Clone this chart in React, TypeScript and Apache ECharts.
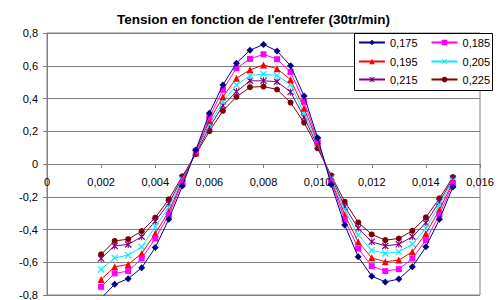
import React, { useEffect, useRef } from 'react';
import * as echarts from 'echarts';

const titleText = "Tension en fonction de l'entrefer (30tr/min)";

const xs = [
  0.002, 0.0025, 0.003, 0.0035, 0.004, 0.0045, 0.005, 0.0055, 0.006, 0.0065,
  0.007, 0.0075, 0.008, 0.0085, 0.009, 0.0095, 0.01, 0.0105, 0.011, 0.0115,
  0.012, 0.0125, 0.013, 0.0135, 0.014, 0.0145, 0.015,
];

const seriesNames = ['0,175', '0,185', '0,195', '0,205', '0,215', '0,225'];

const s175 = [
  -0.82, -0.735, -0.7, -0.634, -0.51, -0.338, -0.135, 0.085, 0.31, 0.483,
  0.616, 0.695, 0.73, 0.69, 0.6, 0.415, 0.16, -0.125, -0.373, -0.567,
  -0.685, -0.72, -0.703, -0.628, -0.506, -0.338, -0.14,
];
const s185 = [
  -0.75, -0.668, -0.654, -0.577, -0.455, -0.312, -0.115, 0.08, 0.285, 0.453,
  0.585, 0.642, 0.67, 0.64, 0.562, 0.38, 0.145, -0.11, -0.34, -0.516,
  -0.624, -0.654, -0.642, -0.577, -0.465, -0.31, -0.12,
];
const s195 = [
  -0.705, -0.628, -0.613, -0.546, -0.424, -0.29, -0.105, 0.075, 0.265, 0.41,
  0.524, 0.575, 0.605, 0.582, 0.515, 0.34, 0.135, -0.1, -0.31, -0.475,
  -0.573, -0.597, -0.587, -0.536, -0.424, -0.28, -0.11,
];
const s205 = [
  -0.644, -0.573, -0.557, -0.506, -0.383, -0.265, -0.095, 0.07, 0.243, 0.38,
  0.483, 0.54, 0.549, 0.54, 0.485, 0.31, 0.125, -0.09, -0.28, -0.434,
  -0.526, -0.546, -0.536, -0.489, -0.393, -0.25, -0.1,
];
const s215 = [
  -0.577, -0.5, -0.491, -0.444, -0.35, -0.24, -0.085, 0.065, 0.224, 0.357,
  0.442, 0.508, 0.508, 0.503, 0.44, 0.285, 0.11, -0.08, -0.26, -0.393,
  -0.475, -0.5, -0.49, -0.444, -0.359, -0.23, -0.09,
];
const s225 = [
  -0.552, -0.47, -0.459, -0.41, -0.328, -0.216, -0.075, 0.06, 0.2, 0.325,
  0.41, 0.469, 0.473, 0.455, 0.375, 0.253, 0.096, -0.07, -0.23, -0.357,
  -0.43, -0.465, -0.455, -0.408, -0.326, -0.21, -0.08,
];

const seriesValues = [s175, s185, s195, s205, s215, s225];
const seriesColors = ['#000080', '#FF00FF', '#FF0000', '#00F0FF', '#800080', '#800000'];

const X_PATH = 'path://M0,1.2L1.2,0L5,3.8L8.8,0L10,1.2L6.2,5L10,8.8L8.8,10L5,6.2L1.2,10L0,8.8L3.8,5Z';
const STAR_PATH = 'path://M0,1.2L1.2,0L5,3.8L8.8,0L10,1.2L6.2,5L10,8.8L8.8,10L5,6.2L1.2,10L0,8.8L3.8,5Z M4.3,0L5.7,0L5.7,10L4.3,10Z';
const seriesSymbols = ['diamond', 'rect', 'triangle', X_PATH, STAR_PATH, 'circle'];
const seriesSymbolSizes = [7, 6, 7, 7, 7, 6];

const FONT = "'Liberation Sans', Arial, sans-serif";

const GRID_TOP = 33;
const GRID_BOTTOM = 5;
const CHART_H = 300;

function fmt(v: number, digits: number): string {
  if (Math.abs(v) < 1e-9) return '0';
  return v.toFixed(digits).replace('.', ',');
}

export default function App() {
  const ref = useRef<HTMLDivElement>(null);
  useEffect(() => {
    if (!ref.current) return;
    const chart = echarts.init(ref.current, undefined, { renderer: 'svg' });
    const series = seriesNames.map((name, i) => ({
      name,
      type: 'line',
      data: xs.map((x, j) => [x, seriesValues[i][j]]),
      symbol: seriesSymbols[i],
      symbolSize: seriesSymbolSizes[i],
      showSymbol: true,
      lineStyle: { color: seriesColors[i], width: 1 },
      itemStyle: { color: seriesColors[i] },
      z: 2 + (5 - i),
    }));
    const legendRow = (names: string[], top: number) => ({
      data: names,
      left: 358,
      top,
      padding: 0,
      itemGap: 13,
      itemWidth: 26,
      itemHeight: 7,
      textStyle: { fontFamily: FONT, fontSize: 11, color: '#000', padding: [0, 0, 0, 0] },
      z: 5,
    });
    // x axis sits on y = 0, which is the middle of the symmetric [-0.8, 0.8] range
    const plotH = CHART_H - GRID_TOP - GRID_BOTTOM;
    const zeroOffset = -plotH / 2;
    chart.setOption({
      animation: false,
      backgroundColor: '#fff',
      title: {
        text: titleText,
        left: 112,
        top: 7,
        textStyle: { fontFamily: FONT, fontSize: 13.5, fontWeight: 'bold', color: '#000' },
      },
      legend: [
        legendRow([seriesNames[0], seriesNames[1]], 37),
        legendRow([seriesNames[2], seriesNames[3]], 56),
        legendRow([seriesNames[4], seriesNames[5]], 74),
      ],
      graphic: [
        {
          type: 'rect',
          z: 3,
          shape: { x: 354.5, y: 33.5, width: 138, height: 57 },
          style: { fill: '#fff', stroke: '#000', lineWidth: 1 },
        },
      ],
      grid: {
        left: 47,
        right: 19,
        top: GRID_TOP,
        bottom: GRID_BOTTOM,
        containLabel: false,
        outerBoundsMode: 'none',
        show: true,
        borderColor: '#808080',
        borderWidth: 1,
        backgroundColor: '#fff',
      },
      xAxis: {
        type: 'value',
        min: 0,
        max: 0.016,
        interval: 0.002,
        position: 'bottom',
        offset: zeroOffset,
        axisLine: { onZero: false, lineStyle: { color: '#808080', width: 1 } },
        axisTick: { show: true, length: 4, lineStyle: { color: '#808080' } },
        splitLine: { show: false },
        axisLabel: {
          fontFamily: FONT,
          fontSize: 11,
          color: '#000',
          margin: 12,
          formatter: (v: number) => fmt(v, 3),
        },
      },
      yAxis: {
        type: 'value',
        min: -0.8,
        max: 0.8,
        interval: 0.2,
        axisLine: { show: true, onZero: false, lineStyle: { color: '#808080', width: 1 } },
        axisTick: { show: true, length: 4, lineStyle: { color: '#808080' } },
        splitLine: { show: true, lineStyle: { color: '#808080', width: 1 } },
        axisLabel: {
          fontFamily: FONT,
          fontSize: 11,
          color: '#000',
          margin: 9,
          formatter: (v: number) => fmt(v, 1),
        },
      },
      series,
    });
    return () => chart.dispose();
  }, []);
  return <div ref={ref} style={{ width: 499, height: 300, position: 'absolute', left: 0, top: 0 }} />;
}
